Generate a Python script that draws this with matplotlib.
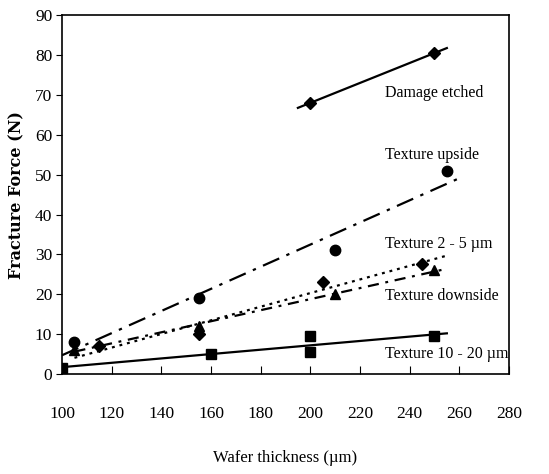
import numpy as np
import matplotlib
matplotlib.use("Agg")
import matplotlib.pyplot as plt

plt.rcParams['font.family'] = ['Liberation Serif', 'DejaVu Serif']

# Measured fracture forces (N) versus wafer thickness (um).
damage_x = [200, 250]
damage_y = [68, 80.5]

upside_x = [105, 155, 210, 255]
upside_y = [8, 19, 31, 51]

tex25_x = [115, 155, 205, 245]
tex25_y = [7, 10, 23, 27.5]

downside_x = [105, 155, 210, 250]
downside_y = [6, 12, 20, 26]

tex1020_x = [100, 160, 200, 200, 250]
tex1020_y = [1.5, 5, 9.5, 5.5, 9.5]

# x range over which each trend line is drawn
damage_span = [195, 255]
upside_span = [100, 260]
tex25_span = [105, 255]
downside_span = [105, 255]
tex1020_span = [100, 255]

series = [
    ("Damage etched", damage_x, damage_y, damage_span, 'D', '-', (230, 70.5)),
    ("Texture upside", upside_x, upside_y, upside_span, 'o', (0, (8, 3.5, 1.5, 3.5)), (230, 55)),
    ("Texture 2 - 5 \u00b5m", tex25_x, tex25_y, tex25_span, 'D', (0, (1.3, 2.2)), (230, 32.5)),
    ("Texture downside", downside_x, downside_y, downside_span, '^', (0, (5, 3, 1.3, 3)), (230, 19.5)),
    ("Texture 10 - 20 \u00b5m", tex1020_x, tex1020_y, tex1020_span, 's', '-', (230, 5)),
]

fig = plt.figure(figsize=(5.49, 4.74), dpi=100)
ax = fig.add_axes([0.113, 0.211, 0.814, 0.757])

for name, xs, ys, span, marker, ls, text_pos in series:
    msize = 6.5 if marker == 'D' else 7.5
    ax.plot(xs, ys, linestyle='none', marker=marker, color='black', markersize=msize)
    # least-squares trend line through the points
    k, b = np.polyfit(xs, ys, 1)
    xx = np.array(span)
    ax.plot(xx, k * xx + b, color='black', linestyle=ls, linewidth=1.6)
    ax.text(text_pos[0], text_pos[1], name, fontsize=11.5, va='center', ha='left')

ax.set_xlim(100, 280)
ax.set_ylim(0, 90)
ax.set_xticks(np.arange(100, 281, 20))
ax.set_yticks(np.arange(0, 91, 10))
ax.tick_params(axis='x', direction='in', length=6, pad=23, labelsize=12.5)
ax.tick_params(axis='y', direction='out', length=4, pad=3, labelsize=12.5)

for s in ax.spines.values():
    s.set_linewidth(1.2)

ax.set_xlabel("Wafer thickness (\u00b5m)", fontsize=12, labelpad=20)
ax.set_ylabel("Fracture Force (N)", fontsize=11.5, fontweight='bold', labelpad=7,
              family=['DejaVu Serif'])

fig.savefig("out.png", dpi=100)
